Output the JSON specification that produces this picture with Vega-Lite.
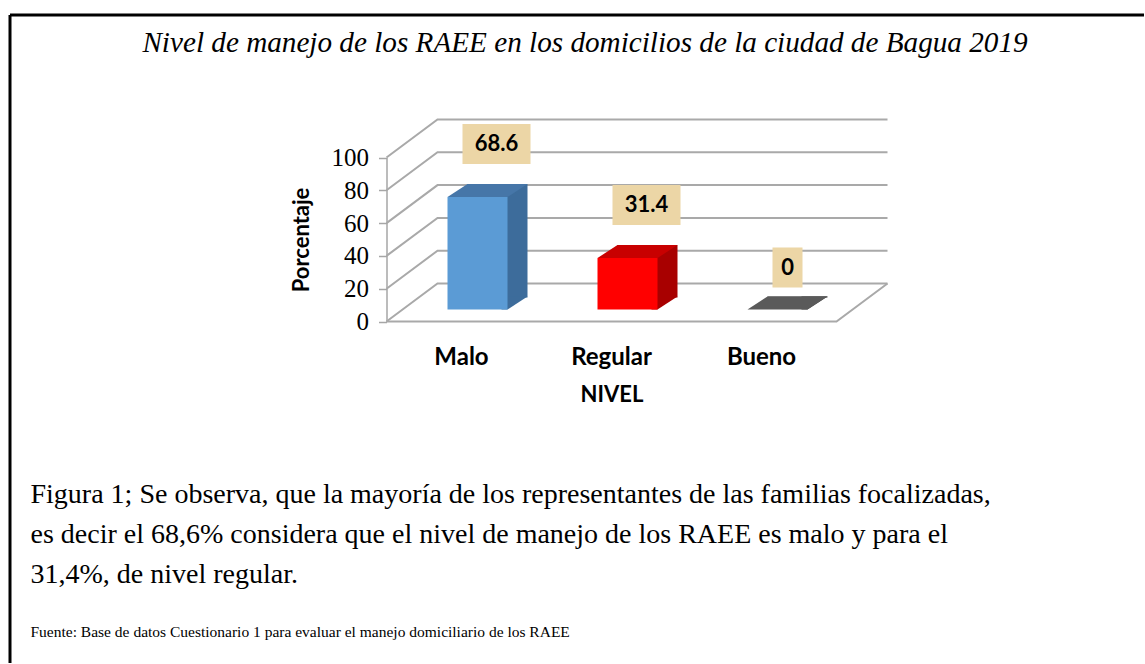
{
  "$schema": "https://vega.github.io/schema/vega-lite/v6.json",
  "background": "white",
  "padding": {"left": 8, "top": 13, "right": 0, "bottom": 0},
  "title": {
    "text": "Nivel de manejo de los RAEE en los domicilios de la ciudad de Bagua 2019",
    "orient": "top",
    "anchor": "middle",
    "offset": -45,
    "dx": 8,
    "font": "Liberation Serif",
    "fontSize": 29.2,
    "fontStyle": "italic",
    "fontWeight": "normal",
    "color": "black"
  },
  "datasets": {
    "bars": [
      {"nivel": "Malo", "pct": 68.6},
      {"nivel": "Regular", "pct": 31.4},
      {"nivel": "Bueno", "pct": 0}
    ],
    "ticks": [
      {"v": 0}, {"v": 20}, {"v": 40}, {"v": 60}, {"v": 80}, {"v": 100}
    ]
  },
  "vconcat": [
    {
      "width": 1134,
      "height": 648,
      "title": {
        "text": [
          "Figura 1; Se observa, que la mayoría de los representantes de las familias focalizadas,",
          "es decir el 68,6% considera que el nivel de manejo de los RAEE es malo y para el",
          "31,4%, de nivel regular."
        ],
        "subtitle": "Fuente: Base de datos Cuestionario 1 para evaluar el manejo domiciliario de los RAEE",
        "orient": "bottom",
        "anchor": "start",
        "frame": "group",
        "offset": -182,
        "dx": 20.5,
        "font": "Liberation Serif",
        "fontSize": 28,
        "fontWeight": "normal",
        "lineHeight": 40,
        "color": "black",
        "subtitleFont": "Liberation Serif",
        "subtitleFontSize": 15.5,
        "subtitleColor": "black",
        "subtitlePadding": 36
      },
      "resolve": {"scale": {"color": "independent"}},
      "layer": [
        {
          "data": {"name": "ticks"},
          "mark": {"type": "point", "shape": "M-75,0L-24,-38L426,-38", "size": 4, "filled": false, "stroke": "#A9A9A9", "strokeWidth": 2, "opacity": 1},
          "encoding": {
            "x": {"datum": "Malo", "type": "nominal", "title": "NIVEL",
                  "scale": {"domain": ["Malo", "Regular", "Bueno"], "range": [376.5, 826.5], "paddingInner": 0.6, "paddingOuter": 0.3}},
            "y": {"field": "v", "type": "quantitative", "title": "Porcentaje",
                  "scale": {"domain": [0, 100], "range": [306.5, 142.5], "nice": false, "zero": true}}
          }
        },
        {
          "data": {"name": "ticks"},
          "transform": [{"filter": "datum.v == 0"}],
          "mark": {"type": "point", "shape": "M-75,0L375,0L426,-38", "size": 4, "filled": false, "stroke": "#A9A9A9", "strokeWidth": 2, "opacity": 1},
          "encoding": {
            "x": {"datum": "Malo", "type": "nominal", "title": "NIVEL"},
            "y": {"field": "v", "type": "quantitative", "title": "Porcentaje"}
          }
        },
        {
          "data": {"name": "bars"},
          "mark": {"type": "bar", "xOffset": 36, "yOffset": -25, "y2Offset": -24, "opacity": 1},
          "encoding": {
            "x": {"field": "nivel", "type": "nominal", "title": "NIVEL", "sort": null},
            "y": {"field": "pct", "type": "quantitative", "title": "Porcentaje", "stack": null},
            "y2": {"datum": 0},
            "color": {"field": "nivel", "type": "nominal", "legend": null,
                      "scale": {"domain": ["Malo", "Regular", "Bueno"], "range": ["#3D6C9B", "#A80000", "#404040"]}}
          }
        },
        {
          "data": {"name": "bars"},
          "mark": {"type": "point", "shape": "M40,-25L66,-25L46,-12L40,-12Z", "size": 4, "filled": true, "opacity": 1, "strokeWidth": 0},
          "encoding": {
            "x": {"field": "nivel", "type": "nominal", "title": "NIVEL"},
            "y": {"datum": 0, "type": "quantitative", "title": "Porcentaje"},
            "color": {"field": "nivel", "type": "nominal", "legend": null,
                      "scale": {"domain": ["Malo", "Regular", "Bueno"], "range": ["#3D6C9B", "#A80000", "#404040"]}}
          }
        },
        {
          "data": {"name": "bars"},
          "mark": {"type": "bar", "xOffset": 16, "yOffset": -12, "y2Offset": -12, "opacity": 1},
          "encoding": {
            "x": {"field": "nivel", "type": "nominal", "title": "NIVEL"},
            "y": {"field": "pct", "type": "quantitative", "title": "Porcentaje", "stack": null},
            "y2": {"datum": 0},
            "color": {"field": "nivel", "type": "nominal", "legend": null,
                      "scale": {"domain": ["Malo", "Regular", "Bueno"], "range": ["#5B9BD5", "#FF0000", "#7F7F7F"]}}
          }
        },
        {
          "data": {"name": "bars"},
          "mark": {"type": "point", "shape": "M-14,-12L46,-12L66,-25L6,-25Z", "size": 4, "filled": true, "opacity": 1, "strokeWidth": 0},
          "encoding": {
            "x": {"field": "nivel", "type": "nominal", "title": "NIVEL"},
            "y": {"field": "pct", "type": "quantitative", "title": "Porcentaje"},
            "color": {"field": "nivel", "type": "nominal", "legend": null,
                      "scale": {"domain": ["Malo", "Regular", "Bueno"], "range": ["#4676A8", "#C80000", "#5A5A5A"]}}
          }
        },
        {
          "data": {"name": "bars"},
          "transform": [{"filter": "datum.pct > 0"}],
          "encoding": {
            "x": {"field": "nivel", "type": "nominal", "title": "NIVEL"},
            "y": {"field": "pct", "type": "quantitative", "title": "Porcentaje"}
          },
          "layer": [
            {"mark": {"type": "point", "shape": "M-34,-20L34,-20L34,20L-34,20Z", "size": 4, "filled": true, "opacity": 1, "color": "#ECD6A6", "strokeWidth": 0, "xOffset": 35, "yOffset": -65}},
            {"mark": {"type": "text", "font": "Lato", "fontWeight": "bold", "fontSize": 22, "color": "black", "align": "center", "baseline": "middle", "xOffset": 35, "yOffset": -65},
             "encoding": {"text": {"field": "pct", "type": "quantitative", "format": ".1~f"}}}
          ]
        },
        {
          "data": {"name": "bars"},
          "transform": [{"filter": "datum.pct == 0"}],
          "encoding": {
            "x": {"field": "nivel", "type": "nominal", "title": "NIVEL"},
            "y": {"field": "pct", "type": "quantitative", "title": "Porcentaje"}
          },
          "layer": [
            {"mark": {"type": "point", "shape": "M-15,-20L15,-20L15,20L-15,20Z", "size": 4, "filled": true, "opacity": 1, "color": "#ECD6A6", "strokeWidth": 0, "xOffset": 26, "yOffset": -54}},
            {"mark": {"type": "text", "font": "Lato", "fontWeight": "bold", "fontSize": 22, "color": "black", "align": "center", "baseline": "middle", "xOffset": 26, "yOffset": -54},
             "encoding": {"text": {"field": "pct", "type": "quantitative", "format": ".1~f"}}}
          ]
        }
      ]
    }
  ],
  "config": {
    "view": {"stroke": "black", "strokeWidth": 3, "strokeDash": [1134, 1782, 648, 0]},
    "axis": {"grid": false},
    "axisY": {
      "offset": -376.5,
      "tickCount": 5,
      "domainColor": "#A6A6A6",
      "domainWidth": 1.5,
      "tickColor": "#A6A6A6",
      "tickWidth": 1.5,
      "tickSize": 8,
      "labelFont": "Liberation Serif",
      "labelFontSize": 25,
      "labelColor": "black",
      "labelPadding": 10,
      "titleFont": "Lato",
      "titleFontWeight": "bold",
      "titleFontSize": 22,
      "titleColor": "black",
      "titlePadding": 18
    },
    "axisX": {
      "offset": -341.5,
      "domain": false,
      "ticks": false,
      "labelAngle": 0,
      "labelFont": "Lato",
      "labelFontWeight": "bold",
      "labelFontSize": 24,
      "labelColor": "black",
      "labelPadding": 24,
      "titleFont": "Lato",
      "titleFontWeight": "bold",
      "titleFontSize": 22,
      "titleColor": "black",
      "titlePadding": 15
    }
  }
}
